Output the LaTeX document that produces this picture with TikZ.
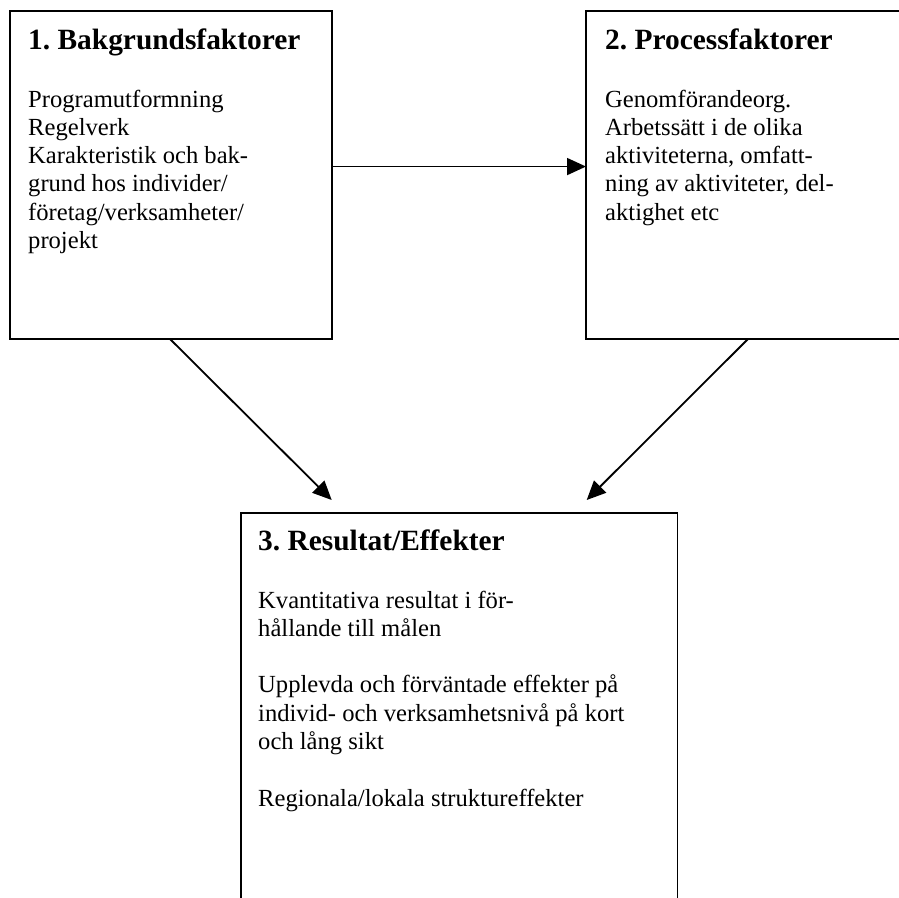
\documentclass[tikz,border=0pt]{standalone}
\usepackage{fontspec}
\setmainfont{Liberation Serif}
\usetikzlibrary{arrows.meta}
\frenchspacing
\begin{document}
\begin{tikzpicture}[x=1pt,y=-1pt,
  box/.style={draw, line width=1.8pt, inner sep=0pt, outer sep=0pt, anchor=north west},
  boxtitle/.style={anchor=base west, inner sep=0pt, font=\fontsize{29.4}{34}\selectfont\bfseries},
  boxbody/.style={anchor=base west, inner sep=0pt, font=\fontsize{24.6}{28.3}\selectfont},
  arr/.style={line width=1.8pt, -{Triangle[length=19pt,width=17pt]}}]
\useasboundingbox (0,0) rectangle (899,897);
\clip (0,0) rectangle (899,897);

% the three frames
\node[box, minimum width=322pt, minimum height=328.3pt] (b1) at (10,10.7) {};
\node[box, minimum width=330pt, minimum height=328.3pt] (b2) at (586,10.7) {};
\node[box, minimum width=436.5pt, minimum height=420pt] (b3) at (241,512.7) {};

% frame texts
\node[boxtitle] (h1) at (28,49) {1. Bakgrundsfaktorer};
\node[boxbody] (p1) at (28,107) {\parbox[t]{300pt}{\raggedright
  Programutformning\\
  Regelverk\\
  Karakteristik och bak-\\
  grund hos individer/\\
  företag/verksamheter/\\
  projekt}};

\node[boxtitle] (h2) at (605,49) {2. Processfaktorer};
\node[boxbody] (p2) at (605,107) {\parbox[t]{290pt}{\raggedright
  Genomförandeorg.\\
  Arbetssätt i de olika\\
  aktiviteterna, omfatt-\\
  ning av aktiviteter, del-\\
  aktighet etc}};

\node[boxtitle] (h3) at (258,550.7) {3. Resultat/Effekter};
\node[boxbody] (p3) at (258,608) {\parbox[t]{415pt}{\raggedright
  Kvantitativa resultat i för-\\
  hållande till målen\\[28.3pt]
  Upplevda och förväntade effekter på\\
  individ- och verksamhetsnivå på kort\\
  och lång sikt\\[28.3pt]
  Regionala/lokala struktureffekter}};

% connectors
\coordinate (t1) at (331.7,500);
\coordinate (t2) at (586.7,500);
\draw[arr] ([yshift=8.3pt]b1.east) -- ([yshift=8.3pt]b2.west);
\draw[arr] ([xshift=-1pt]b1.south) -- (t1);
\draw[arr] ([xshift=162pt]b2.south west) -- (t2);
\end{tikzpicture}
\end{document}
